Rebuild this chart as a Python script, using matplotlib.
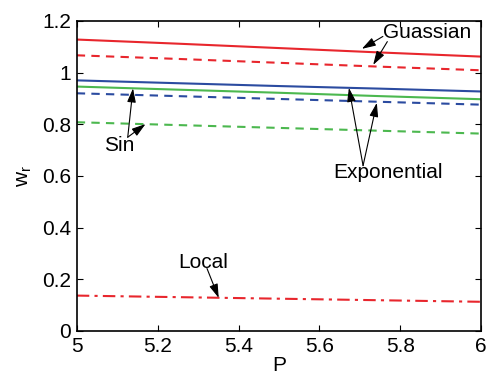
import matplotlib
matplotlib.use("Agg")
import matplotlib.pyplot as plt

plt.rcParams['font.family'] = ['Liberation Sans', 'DejaVu Sans']

P = [5.0, 5.25, 5.5, 5.75, 6.0]
gauss_solid = [1.128, 1.112, 1.095, 1.078, 1.062]
gauss_dash = [1.067, 1.053, 1.038, 1.023, 1.009]
exp_solid = [0.970, 0.959, 0.948, 0.938, 0.927]
sin_solid = [0.946, 0.934, 0.922, 0.909, 0.897]
exp_dash = [0.920, 0.909, 0.898, 0.887, 0.876]
sin_dash = [0.808, 0.797, 0.786, 0.775, 0.764]
local = [0.137, 0.131, 0.125, 0.119, 0.113]

xticks = [5, 5.2, 5.4, 5.6, 5.8, 6]
yticks = [0, 0.2, 0.4, 0.6, 0.8, 1, 1.2]
xtick_labels = ['5', '5.2', '5.4', '5.6', '5.8', '6']
ytick_labels = ['0', '0.2', '0.4', '0.6', '0.8', '1', '1.2']

red = '#E8262D'
blue = '#2B4BA0'
green = '#4CB84F'

fig = plt.figure(figsize=(4.86, 3.74), dpi=100)
ax = fig.add_axes([0.158, 0.115, 0.832, 0.829])

lw = 1.5
ax.plot(P, gauss_solid, '-', color=red, lw=lw)
ax.plot(P, gauss_dash, '--', color=red, lw=lw, dashes=(4, 3))
ax.plot(P, exp_solid, '-', color=blue, lw=lw)
ax.plot(P, sin_solid, '-', color=green, lw=lw)
ax.plot(P, exp_dash, '--', color=blue, lw=lw, dashes=(4, 3))
ax.plot(P, sin_dash, '--', color=green, lw=lw, dashes=(4, 3))
ax.plot(P, local, '-.', color=red, lw=lw, dashes=(6, 2.5, 1.5, 2.5))

ax.set_xlim(5, 6)
ax.set_ylim(0, 1.2)
ax.set_xticks(xticks)
ax.set_xticklabels(xtick_labels)
ax.set_yticks(yticks)
ax.set_yticklabels(ytick_labels)
ax.tick_params(direction='in', top=True, right=True, labelsize=15, length=4, width=0.8, pad=4)
for s in ax.spines.values():
    s.set_linewidth(1.2)

ax.set_xlabel('P', fontsize=15, labelpad=0)
ax.set_ylabel(r'w$_\mathregular{r}$', fontsize=15, labelpad=6)

fs = 15
arr = dict(arrowstyle='-|>,head_length=0.7,head_width=0.22', color='black', lw=0.8,
           mutation_scale=12, shrinkA=0, shrinkB=0)

# Guassian
ax.text(5.757, 1.154, 'Guassian', fontsize=fs, va='center', ha='left')
ax.annotate('', xy=(5.705, 1.092), xytext=(5.757, 1.14), arrowprops=arr)
ax.annotate('', xy=(5.733, 1.030), xytext=(5.768, 1.12), arrowprops=arr)

# Sin
ax.text(5.067, 0.716, 'Sin', fontsize=fs, va='center', ha='left')
ax.annotate('', xy=(5.139, 0.939), xytext=(5.126, 0.750), arrowprops=arr)
ax.annotate('', xy=(5.17, 0.801), xytext=(5.126, 0.750), arrowprops=arr)

# Exponential
ax.text(5.634, 0.615, 'Exponential', fontsize=fs, va='center', ha='left')
ax.annotate('', xy=(5.673, 0.941), xytext=(5.708, 0.640), arrowprops=arr)
ax.annotate('', xy=(5.742, 0.883), xytext=(5.708, 0.640), arrowprops=arr)

# Local
ax.text(5.252, 0.267, 'Local', fontsize=fs, va='center', ha='left')
ax.annotate('', xy=(5.351, 0.128), xytext=(5.322, 0.242), arrowprops=arr)

fig.savefig('out.png', dpi=100)
